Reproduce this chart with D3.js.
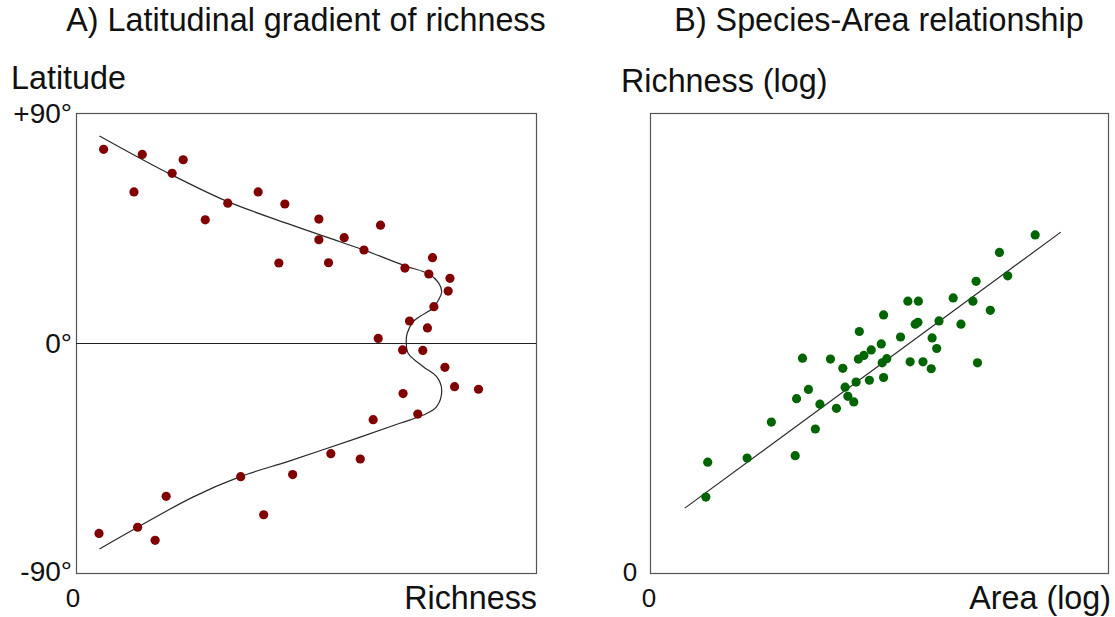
<!DOCTYPE html>
<html>
<head>
<meta charset="utf-8">
<script src="https://cdn.jsdelivr.net/npm/d3@7"></script>
<style>
  html, body { margin: 0; padding: 0; background: #fff; }
  svg { display: block; font-family: "Liberation Sans", Arial, sans-serif; }
</style>
</head>
<body>
<svg id="chart" width="1115" height="617"></svg>
<script>
// Panel A: sampled sites, richness (0-100) against latitude (degrees)
const siteRichness = [6.0, 14.4, 23.3, 20.9, 12.6, 39.6, 33.0, 45.4, 28.1, 44.1,
  52.8, 66.2, 52.8, 58.3, 62.6, 54.9, 77.5, 71.5, 76.7, 81.3,
  80.9, 77.8, 72.5, 76.4, 65.7, 71.0, 75.4, 80.2, 82.3, 87.5,
  71.1, 74.3, 64.6, 55.4, 61.8, 47.1, 35.8, 19.6, 40.8, 5.0,
  13.4, 17.2];
const siteLatitude = [75.8, 73.8, 71.7, 66.4, 59.1, 59.1, 54.7, 54.4, 48.2, 31.3,
  48.5, 46.1, 40.4, 41.2, 36.4, 31.4, 33.4, 29.3, 27.0, 25.3,
  20.3, 14.2, 8.6, 5.9, 1.8, -2.7, -2.9, -9.5, -17.1, -18.1,
  -19.8, -27.8, -30.0, -43.3, -45.4, -51.5, -52.3, -60.0, -67.2, -74.5,
  -72.1, -77.2];

// Panel A: trend curve through the cloud
const trendRichness = [5.1, 13.9, 20.9, 33.0, 46.5, 57.4, 62.6, 71.5, 76.7, 78.8,
  79.5, 78.8, 77.7, 75.5, 73.3, 72.0, 71.8, 72.2, 75.5, 78.4,
  79.5, 78.4, 75.5, 70.4, 61.0, 46.5, 35.7, 25.4, 13.4, 5.1];
const trendLatitude = [81.0, 72.3, 65.7, 55.3, 46.4, 39.6, 36.4, 30.2, 27.0, 23.6,
  20.1, 16.8, 13.8, 11.2, 8.3, 3.8, 0, -4.0, -9.3, -13.2,
  -18.4, -24.9, -28.2, -31.4, -37.3, -46.1, -52.3, -60.3, -72.1, -80.6];

// Panel B: islands, log area against log richness
const islandArea = [1.22, 1.26, 2.12, 2.65, 3.17, 3.61, 3.20, 3.46, 3.33, 3.71,
  4.07, 3.94, 4.21, 4.26, 4.32, 4.45, 4.50, 4.55, 4.67, 4.57,
  4.79, 4.83, 5.05, 5.10, 5.07, 5.17, 5.10, 5.47, 5.68, 5.63,
  5.86, 5.79, 5.85, 5.96, 6.14, 6.16, 6.26, 6.31, 6.62, 6.79,
  7.05, 7.12, 7.15, 7.43, 7.63, 7.81, 8.41];
const islandRichness = [1.65, 2.41, 2.50, 3.28, 2.55, 3.13, 3.79, 3.99, 4.67, 3.67,
  3.58, 4.65, 4.45, 4.04, 3.84, 3.72, 4.15, 4.65, 4.73, 5.25,
  4.19, 4.85, 4.98, 4.25, 4.57, 4.66, 5.61, 5.13, 4.59, 5.91,
  5.91, 5.41, 5.45, 4.59, 4.44, 5.11, 4.88, 5.48, 5.98, 5.41,
  5.91, 6.34, 4.57, 5.71, 6.97, 6.46, 7.35];

// Panel B: fitted regression line (end points)
const fitArea = [0.76, 8.97];
const fitRichness = [1.41, 7.41];

// Axis labels
const latitudeTicks = [{ value: 90, label: "+90°", dy: "0.36em" },
  { value: 0, label: "0°", dy: "0.36em" },
  { value: -90, label: "-90°", dy: "0.3em" }];

const svg = d3.select("#chart");
const FONT_BIG = 32.3;
const FONT_TICK = 28;
const FONT_ZERO = 26;

// ---------- Panel A ----------
const A = { left: 76, right: 536, top: 113, bottom: 573 };
const xA = d3.scaleLinear().domain([0, 100]).range([A.left, A.right]);
const yA = d3.scaleLinear().domain([-90, 90]).range([A.bottom, A.top]);

const gA = svg.append("g");

gA.append("rect")
  .attr("x", A.left + 0.5).attr("y", A.top + 0.5)
  .attr("width", A.right - A.left).attr("height", A.bottom - A.top)
  .attr("fill", "none").attr("stroke", "#555").attr("stroke-width", 1.2);

// equator
gA.append("line")
  .attr("x1", xA(0)).attr("x2", xA(100))
  .attr("y1", yA(0) + 0.5).attr("y2", yA(0) + 0.5)
  .attr("stroke", "#222").attr("stroke-width", 1.1);

const trendA = d3.range(trendRichness.length).map(i => [trendRichness[i], trendLatitude[i]]);
gA.append("path")
  .datum(trendA)
  .attr("fill", "none")
  .attr("stroke", "#2a2a2a")
  .attr("stroke-width", 1.2)
  .attr("d", d3.line().x(d => xA(d[0])).y(d => yA(d[1])).curve(d3.curveCatmullRom.alpha(0.5)));

gA.selectAll("circle.site")
  .data(d3.range(siteRichness.length))
  .join("circle")
  .attr("class", "site")
  .attr("cx", i => xA(siteRichness[i]))
  .attr("cy", i => yA(siteLatitude[i]))
  .attr("r", 4.6)
  .attr("fill", "#800000");

// latitude labels
gA.selectAll("text.lat")
  .data(latitudeTicks)
  .join("text")
  .attr("class", "lat")
  .attr("x", 72)
  .attr("y", d => yA(d.value))
  .attr("dy", d => d.dy)
  .attr("text-anchor", "end")
  .attr("font-size", FONT_TICK)
  .attr("fill", "#111")
  .text(d => d.label);

gA.append("text")
  .attr("x", xA(0) - 3).attr("y", 607)
  .attr("text-anchor", "middle").attr("font-size", FONT_ZERO).attr("fill", "#111")
  .text("0");

gA.append("text")
  .attr("x", 11).attr("y", 89)
  .attr("font-size", FONT_BIG).attr("fill", "#111")
  .text("Latitude");

gA.append("text")
  .attr("x", A.right + 1).attr("y", 609)
  .attr("text-anchor", "end").attr("font-size", FONT_BIG).attr("fill", "#111")
  .text("Richness");

gA.append("text")
  .attr("x", (A.left + A.right) / 2).attr("y", 31)
  .attr("text-anchor", "middle").attr("font-size", FONT_BIG).attr("fill", "#111")
  .text("A) Latitudinal gradient of richness");

// ---------- Panel B ----------
const B = { left: 650, right: 1108, top: 113, bottom: 573 };
const xB = d3.scaleLinear().domain([0, 10]).range([B.left, B.right]);
const yB = d3.scaleLinear().domain([0, 10]).range([B.bottom, B.top]);

const gB = svg.append("g");

gB.append("rect")
  .attr("x", B.left + 0.5).attr("y", B.top + 0.5)
  .attr("width", B.right - B.left).attr("height", B.bottom - B.top)
  .attr("fill", "none").attr("stroke", "#555").attr("stroke-width", 1.2);

const fitB = d3.range(fitArea.length).map(i => [fitArea[i], fitRichness[i]]);
gB.append("path")
  .datum(fitB)
  .attr("fill", "none")
  .attr("stroke", "#2a2a2a")
  .attr("stroke-width", 1.2)
  .attr("d", d3.line().x(d => xB(d[0])).y(d => yB(d[1])));

gB.selectAll("circle.island")
  .data(d3.range(islandArea.length))
  .join("circle")
  .attr("class", "island")
  .attr("cx", i => xB(islandArea[i]))
  .attr("cy", i => yB(islandRichness[i]))
  .attr("r", 4.6)
  .attr("fill", "#006400");

gB.append("text")
  .attr("x", 630).attr("y", yB(0)).attr("dy", "0.3em")
  .attr("text-anchor", "middle").attr("font-size", FONT_ZERO).attr("fill", "#111")
  .text("0");

gB.append("text")
  .attr("x", xB(0) - 1).attr("y", 607)
  .attr("text-anchor", "middle").attr("font-size", FONT_ZERO).attr("fill", "#111")
  .text("0");

gB.append("text")
  .attr("x", 621).attr("y", 92)
  .attr("font-size", FONT_BIG).attr("fill", "#111")
  .text("Richness (log)");

gB.append("text")
  .attr("x", 1111).attr("y", 609)
  .attr("text-anchor", "end").attr("font-size", FONT_BIG).attr("fill", "#111")
  .text("Area (log)");

gB.append("text")
  .attr("x", (B.left + B.right) / 2).attr("y", 31)
  .attr("text-anchor", "middle").attr("font-size", FONT_BIG).attr("fill", "#111")
  .text("B) Species-Area relationship");
</script>
</body>
</html>
